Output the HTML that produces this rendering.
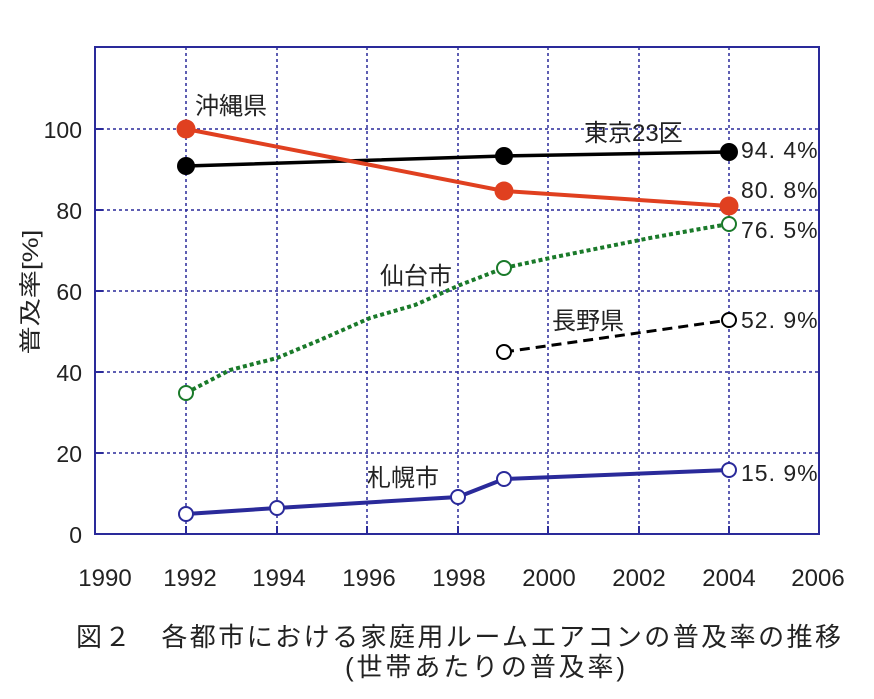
<!DOCTYPE html>
<html><head><meta charset="utf-8"><style>
html,body{margin:0;padding:0;background:#fff;}
svg text{font-family:"Liberation Sans","Noto Sans CJK JP",sans-serif;fill:#222;}
</style></head><body>
<svg width="874" height="694" viewBox="0 0 874 694" xmlns="http://www.w3.org/2000/svg">
<g stroke="#2a2a9a" stroke-width="1.5" stroke-dasharray="3,3" fill="none">
<line x1="95" y1="129" x2="819" y2="129"/><line x1="95" y1="210" x2="819" y2="210"/>
<line x1="95" y1="291" x2="819" y2="291"/><line x1="95" y1="372" x2="819" y2="372"/>
<line x1="95" y1="453" x2="819" y2="453"/>
<line x1="186" y1="47" x2="186" y2="534"/><line x1="277" y1="47" x2="277" y2="534"/>
<line x1="367" y1="47" x2="367" y2="534"/><line x1="458" y1="47" x2="458" y2="534"/>
<line x1="548" y1="47" x2="548" y2="534"/><line x1="639" y1="47" x2="639" y2="534"/>
<line x1="729" y1="47" x2="729" y2="534"/>
</g>
<rect x="95" y="47" width="724" height="487" fill="none" stroke="#2a2a9a" stroke-width="2"/>
<g stroke="#2a2a9a" stroke-width="2">
<line x1="95" y1="129" x2="103" y2="129"/><line x1="95" y1="210" x2="103" y2="210"/><line x1="95" y1="291" x2="103" y2="291"/><line x1="95" y1="372" x2="103" y2="372"/><line x1="95" y1="453" x2="103" y2="453"/>
<line x1="186" y1="534" x2="186" y2="526"/><line x1="277" y1="534" x2="277" y2="526"/><line x1="367" y1="534" x2="367" y2="526"/><line x1="458" y1="534" x2="458" y2="526"/><line x1="548" y1="534" x2="548" y2="526"/><line x1="639" y1="534" x2="639" y2="526"/><line x1="729" y1="534" x2="729" y2="526"/>
</g>
<g font-size="23" text-anchor="end">
<text x="82" y="138">100</text><text x="82" y="219">80</text><text x="82" y="300">60</text><text x="82" y="381">40</text><text x="82" y="462">20</text><text x="82" y="543">0</text>
</g>
<g font-size="24" text-anchor="middle">
<text x="105" y="586">1990</text><text x="190" y="586">1992</text><text x="279" y="586">1994</text><text x="369" y="586">1996</text><text x="459" y="586">1998</text><text x="549" y="586">2000</text><text x="639" y="586">2002</text><text x="729" y="586">2004</text><text x="818" y="586">2006</text>
</g>
<text transform="translate(38,292) rotate(-90)" font-size="22" text-anchor="middle" textLength="125" lengthAdjust="spacingAndGlyphs">普及率[%]</text>
<polyline points="186,166 504,156 729,152" fill="none" stroke="#000" stroke-width="3.5"/>
<g fill="#000"><circle cx="186" cy="166" r="9"/><circle cx="504" cy="156" r="9"/><circle cx="729" cy="152" r="9"/></g>
<polyline points="186,129 504,191 729,206" fill="none" stroke="#e04020" stroke-width="4"/>
<g fill="#e04020"><circle cx="186" cy="129" r="9.5"/><circle cx="504" cy="191" r="9.5"/><circle cx="729" cy="206" r="9.5"/></g>
<polyline points="186,393 230,370 277,358 320,340 370,318 415,305 460,285 504,268 550,258 600,248 650,238 700,229 729,224" fill="none" stroke="#1a7a2a" stroke-width="4" stroke-dasharray="4,3"/>
<g fill="#fff" stroke="#1a7a2a" stroke-width="2"><circle cx="186" cy="393" r="7"/><circle cx="504" cy="268" r="7"/><circle cx="729" cy="224" r="7"/></g>
<polyline points="504,352 729,320" fill="none" stroke="#000" stroke-width="3" stroke-dasharray="10,6"/>
<g fill="#fff" stroke="#000" stroke-width="2"><circle cx="504" cy="352" r="7"/><circle cx="729" cy="320" r="7"/></g>
<polyline points="186,514 277,508 458,497 504,479 729,470" fill="none" stroke="#2a2a9a" stroke-width="4"/>
<g fill="#fff" stroke="#2a2a9a" stroke-width="2"><circle cx="186" cy="514" r="7"/><circle cx="277" cy="508" r="7"/><circle cx="458" cy="497" r="7"/><circle cx="504" cy="479" r="7"/><circle cx="729" cy="470" r="7"/></g>
<g font-size="24">
<text x="195" y="114">沖縄県</text>
<text x="584" y="141">東京23区</text>
<text x="380" y="284">仙台市</text>
<text x="552" y="329">長野県</text>
<text x="367" y="486">札幌市</text>
</g>
<g font-size="23" letter-spacing="1">
<text x="741" y="158">94. 4%</text>
<text x="741" y="198">80. 8%</text>
<text x="741" y="238">76. 5%</text>
<text x="741" y="328">52. 9%</text>
<text x="741" y="481">15. 9%</text>
</g>
<text x="76" y="646" font-size="26" textLength="765" lengthAdjust="spacing">図２　各都市における家庭用ルームエアコンの普及率の推移</text>
<text x="345" y="676" font-size="26" textLength="280" lengthAdjust="spacing">(世帯あたりの普及率)</text>
</svg>
</body></html>
